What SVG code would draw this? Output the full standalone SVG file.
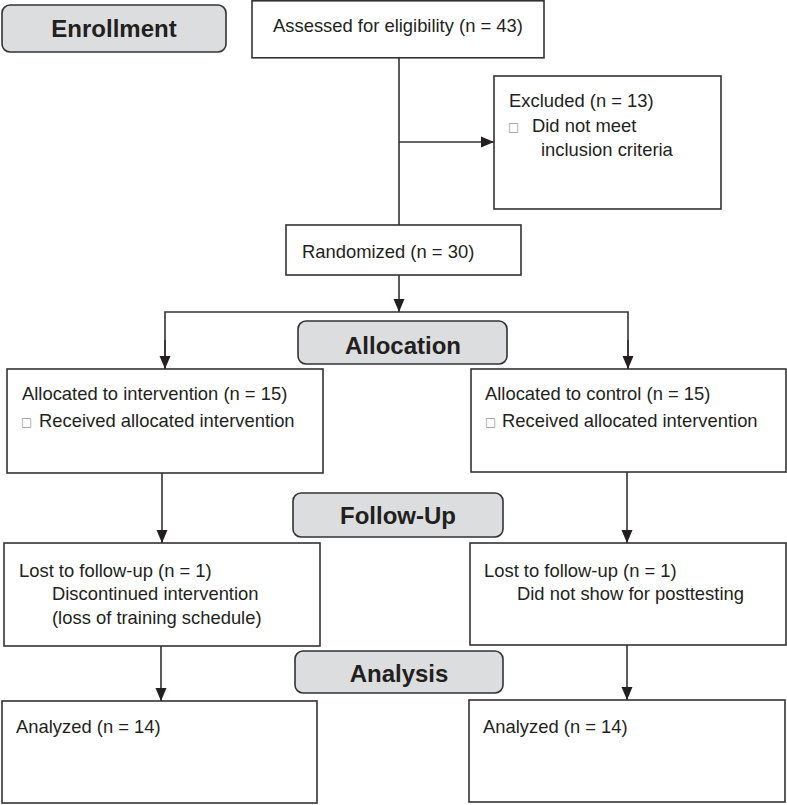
<svg xmlns="http://www.w3.org/2000/svg" width="787" height="805" viewBox="0 0 787 805">
<style>
.box{fill:#fff;stroke:#333;stroke-width:1.6}
.stage{fill:#dcdddf;stroke:#333;stroke-width:1.6}
.t{font-family:"Liberation Sans",Arial,sans-serif;font-size:18.4px;fill:#231f20}
.h{font-family:"Liberation Sans",Arial,sans-serif;font-size:24px;font-weight:bold;fill:#231f20;text-anchor:middle}
.b{font-family:"DejaVu Sans",sans-serif;font-size:12px;fill:#999}
.ln{fill:none;stroke:#333;stroke-width:1.6}
</style>
<defs>
<marker id="ah" markerUnits="userSpaceOnUse" markerWidth="14" markerHeight="14" viewBox="0 0 14 14" refX="13" refY="7" orient="auto">
<path d="M0,1.5 L13,7 L0,12.5 Z" fill="#231f20"/>
</marker>
</defs>
<g id="connectors">
<line class="ln" x1="399" y1="58" x2="399" y2="225"/>
<line class="ln" x1="399" y1="142" x2="494" y2="142" marker-end="url(#ah)"/>
<line class="ln" x1="399" y1="275" x2="399" y2="312" marker-end="url(#ah)"/>
<polyline class="ln" points="165,369 165,312 628,312 628,369"/>
<line class="ln" x1="165" y1="340" x2="165" y2="369" marker-end="url(#ah)"/>
<line class="ln" x1="628" y1="340" x2="628" y2="369" marker-end="url(#ah)"/>
<line class="ln" x1="162" y1="473" x2="162" y2="543" marker-end="url(#ah)"/>
<line class="ln" x1="627" y1="472" x2="627" y2="543" marker-end="url(#ah)"/>
<line class="ln" x1="161" y1="646" x2="161" y2="701" marker-end="url(#ah)"/>
<line class="ln" x1="627" y1="645" x2="627" y2="700" marker-end="url(#ah)"/>
</g>
<g id="enrollment">
<rect class="stage" x="2" y="5" width="224" height="47" rx="8"/>
<text class="h" x="114" y="37">Enrollment</text>
</g>
<g id="assessed">
<rect class="box" x="252" y="0.8" width="292" height="57"/>
<text class="t" x="273" y="32">Assessed for eligibility (n = 43)</text>
</g>
<g id="excluded">
<rect class="box" x="494" y="76" width="227" height="133"/>
<text class="t" x="509" y="107">Excluded (n = 13)</text>
<text class="b" x="508" y="131">□</text>
<text class="t" x="532" y="132">Did not meet</text>
<text class="t" x="541" y="156">inclusion criteria</text>
</g>
<g id="randomized">
<rect class="box" x="286" y="225" width="235" height="50"/>
<text class="t" x="302" y="258">Randomized (n = 30)</text>
</g>
<g id="allocation">
<rect class="stage" x="298" y="321" width="209" height="43" rx="8"/>
<text class="h" x="403" y="354">Allocation</text>
</g>
<g id="alloc-intervention">
<rect class="box" x="7" y="369" width="316" height="104"/>
<text class="t" x="22" y="400">Allocated to intervention (n = 15)</text>
<text class="b" x="21" y="426">□</text>
<text class="t" x="39" y="427">Received allocated intervention</text>
</g>
<g id="alloc-control">
<rect class="box" x="471" y="369" width="315" height="103"/>
<text class="t" x="485" y="400">Allocated to control (n = 15)</text>
<text class="b" x="485" y="426">□</text>
<text class="t" x="502" y="427">Received allocated intervention</text>
</g>
<g id="followup">
<rect class="stage" x="293" y="493" width="210" height="44" rx="8"/>
<text class="h" x="398" y="524">Follow-Up</text>
</g>
<g id="lost-intervention">
<rect class="box" x="4" y="543" width="316" height="103"/>
<text class="t" x="19" y="577">Lost to follow-up (n = 1)</text>
<text class="t" x="52" y="600">Discontinued intervention</text>
<text class="t" x="52" y="624">(loss of training schedule)</text>
</g>
<g id="lost-control">
<rect class="box" x="470" y="543" width="316" height="102"/>
<text class="t" x="484" y="577">Lost to follow-up (n = 1)</text>
<text class="t" x="517" y="600">Did not show for posttesting</text>
</g>
<g id="analysis">
<rect class="stage" x="295" y="651" width="208" height="42" rx="8"/>
<text class="h" x="399" y="682">Analysis</text>
</g>
<g id="analyzed-intervention">
<rect class="box" x="2" y="701" width="315" height="102"/>
<text class="t" x="16" y="733">Analyzed (n = 14)</text>
</g>
<g id="analyzed-control">
<rect class="box" x="469" y="700" width="316" height="102"/>
<text class="t" x="483" y="733">Analyzed (n = 14)</text>
</g>
</svg>
